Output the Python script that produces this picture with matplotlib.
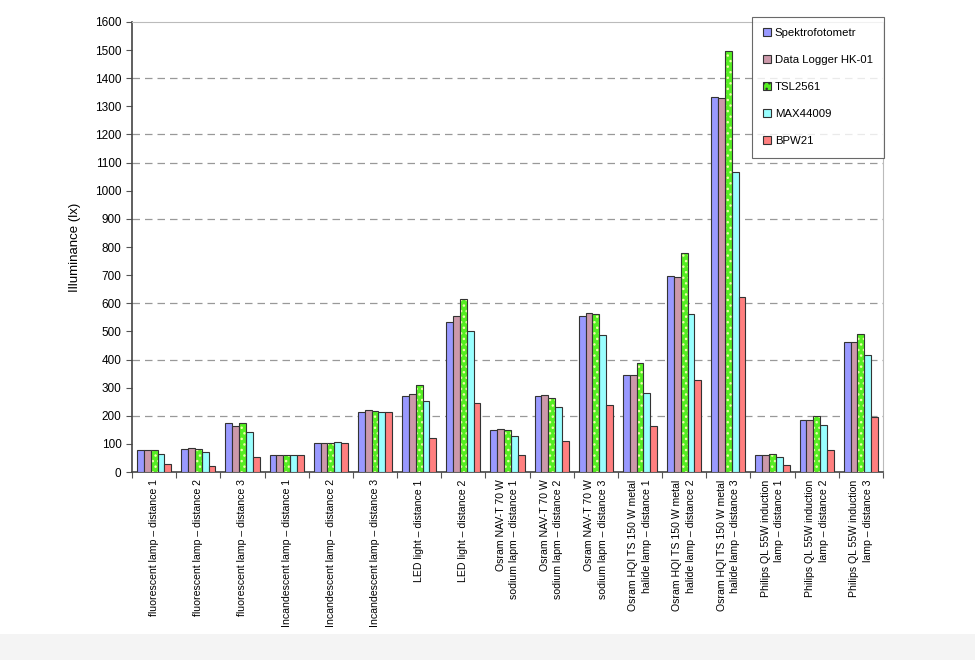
import matplotlib
matplotlib.use("Agg")
import matplotlib.pyplot as plt
import numpy as np

plt.rcParams['font.family'] = ['Liberation Sans', 'DejaVu Sans']

categories = [
    "fluorescent lamp \u2013 distance 1",
    "fluorescent lamp \u2013 distance 2",
    "fluorescent lamp \u2013 distance 3",
    "Incandescent lamp \u2013 distance 1",
    "Incandescent lamp \u2013 distance 2",
    "Incandescent lamp \u2013 distance 3",
    "LED light \u2013 distance 1",
    "LED light \u2013 distance 2",
    "Osram NAV-T 70 W\nsodium lapm \u2013 distance 1",
    "Osram NAV-T 70 W\nsodium lapm \u2013 distance 2",
    "Osram NAV-T 70 W\nsodium lapm \u2013 distance 3",
    "Osram HQI TS 150 W metal\nhalide lamp \u2013 distance 1",
    "Osram HQI TS 150 W metal\nhalide lamp \u2013 distance 2",
    "Osram HQI TS 150 W metal\nhalide lamp \u2013 distance 3",
    "Philips QL 55W induction\nlamp \u2013 distance 1",
    "Philips QL 55W induction\nlamp \u2013 distance 2",
    "Philips QL 55W induction\nlamp \u2013 distance 3",
]

spektrofotometr = [80, 81, 173, 60, 104, 213, 269, 535, 149, 271, 556, 344, 698, 1332, 59, 186, 461]
data_logger = [80, 85, 163, 60, 104, 219, 278, 554, 152, 273, 565, 344, 692, 1328, 59, 184, 462]
tsl2561 = [78, 81, 173, 60, 104, 216, 309, 615, 149, 264, 561, 388, 779, 1497, 63, 198, 490]
max44009 = [64, 70, 142, 60, 106, 213, 252, 501, 129, 232, 488, 280, 561, 1066, 53, 168, 415]
bpw21 = [30, 21, 54, 60, 104, 213, 122, 245, 62, 109, 239, 165, 328, 621, 25, 78, 197]

series = [
    ("Spektrofotometr", spektrofotometr, "#9999ff"),
    ("Data Logger HK-01", data_logger, "#cc99aa"),
    ("TSL2561", tsl2561, "#55ee22"),
    ("MAX44009", max44009, "#99ffff"),
    ("BPW21", bpw21, "#ff7f7f"),
]

fig = plt.figure(figsize=(9.75, 6.6), dpi=100)
ax = fig.add_axes([0.1354, 0.2848, 0.7702, 0.6819])

# faint page edge at the bottom
fig.patches.append(plt.Rectangle((0, 0), 1, 0.04, transform=fig.transFigure,
                                 facecolor="#f4f4f4", edgecolor="none", zorder=-1))

x = np.arange(len(categories))
w = 0.155
handles = []
for i, (name, vals, col) in enumerate(series):
    pos = x + (i - 2) * w
    if name == "TSL2561":
        # dotted pattern: hatch with pale dots, then dark outline on top
        ax.bar(pos, vals, w, color=col, edgecolor="#eeffaa", hatch="...",
               linewidth=0, zorder=3)
        ax.bar(pos, vals, w, facecolor="none", edgecolor="#333333",
               linewidth=0.8, zorder=4)
        h = plt.Rectangle((0, 0), 1, 1, facecolor=col, edgecolor="#333333",
                          hatch="...", linewidth=0.8)
    else:
        ax.bar(pos, vals, w, color=col, edgecolor="#333333", linewidth=0.8, zorder=3)
        h = plt.Rectangle((0, 0), 1, 1, facecolor=col, edgecolor="#333333", linewidth=0.8)
    handles.append(h)

ax.set_xlim(-0.5, len(categories) - 0.5)
ax.set_ylim(0, 1600)
ax.set_yticks(np.arange(0, 1601, 100))
ax.tick_params(axis='y', labelsize=8.5, direction='out', length=4, color="#555555")

for gy in [200, 400, 600, 900, 1100, 1200, 1400]:
    ax.axhline(gy, color="#999999", linestyle=(0, (6, 4)), linewidth=0.9, zorder=1)

ax.set_xticks(np.arange(-0.5, len(categories), 1))
ax.set_xticklabels([])
ax.tick_params(axis='x', direction='out', length=4, color="#555555")
for xi, lab in zip(x, categories):
    ax.text(xi, -26, lab, rotation=90, ha='center', va='top', fontsize=7.6,
            multialignment='right', linespacing=1.45)

ax.spines['left'].set_color("#444444")
ax.spines['bottom'].set_color("#444444")
ax.spines['top'].set_color("#bbbbbb")
ax.spines['right'].set_color("#bbbbbb")
ax.spines['left'].set_linewidth(1.2)
ax.spines['bottom'].set_linewidth(1.2)

ax.set_ylabel("Illuminance (lx)", fontsize=9.5, labelpad=10)

leg = fig.legend(handles, [s[0] for s in series], loc='upper right',
                 bbox_to_anchor=(0.907, 0.975), fontsize=8.2, frameon=True,
                 fancybox=False, edgecolor="#444444", handlelength=0.7,
                 handleheight=0.7, handletextpad=0.35, labelspacing=1.5,
                 borderpad=1.0, borderaxespad=0)
leg.get_frame().set_linewidth(0.8)

fig.savefig("out.png", dpi=100)
